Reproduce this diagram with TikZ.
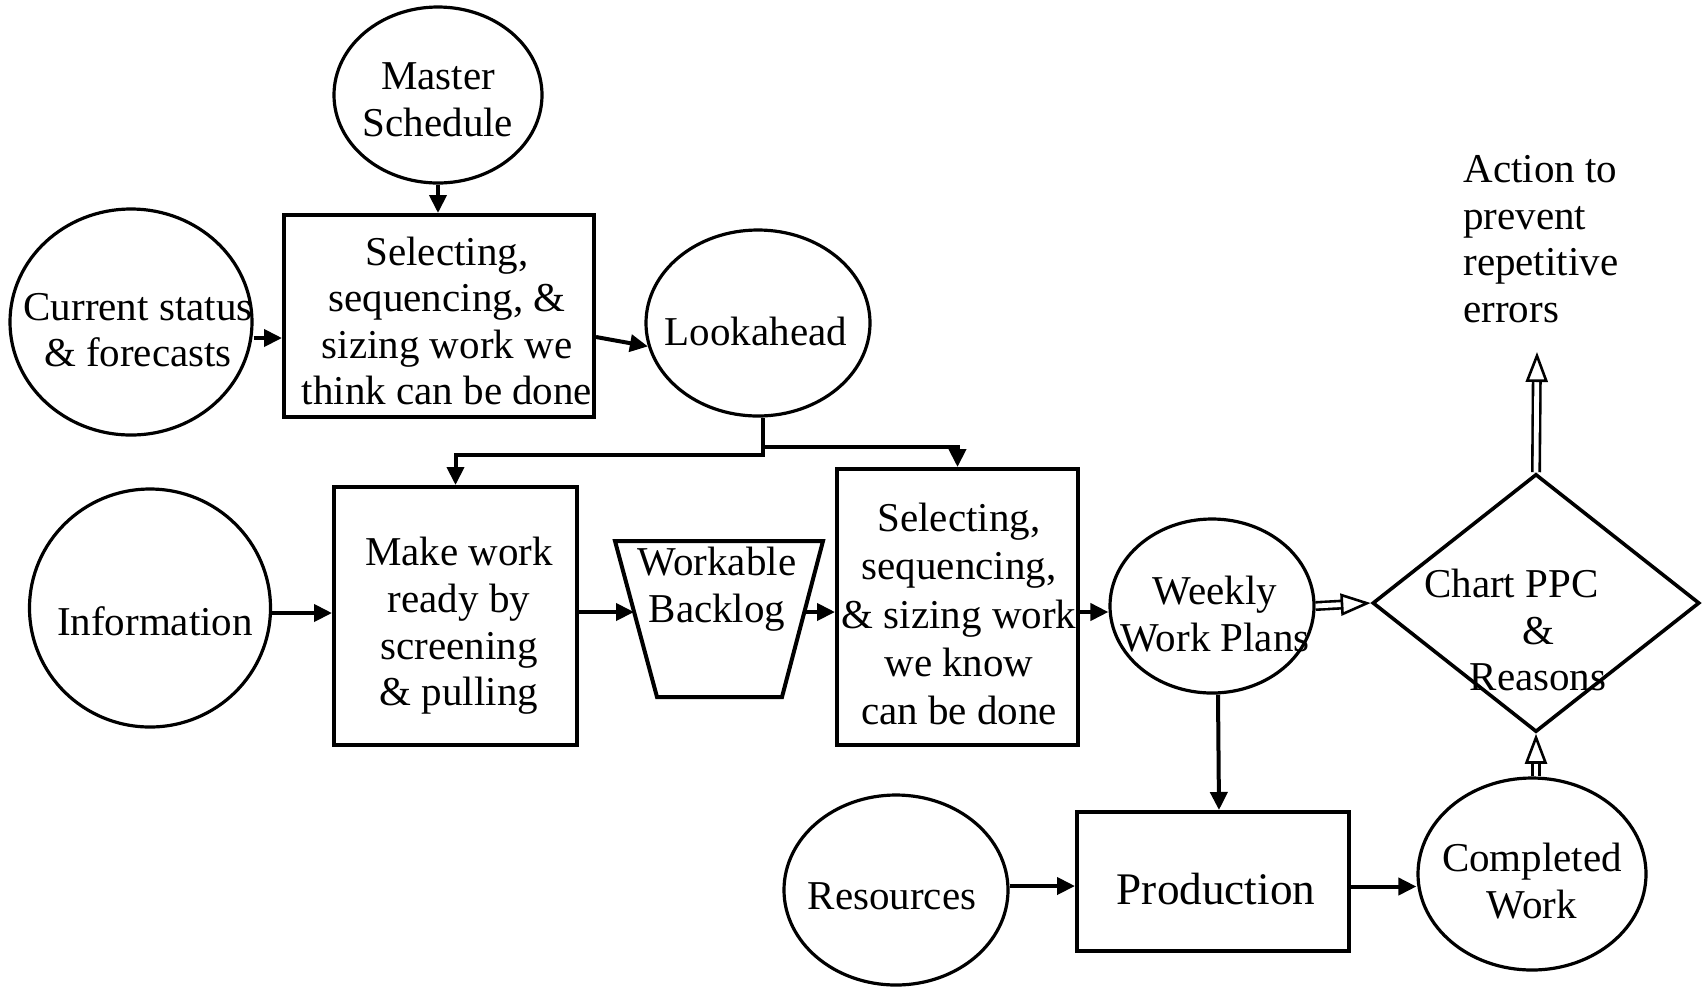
\documentclass[tikz,border=0pt]{standalone}
\usepackage{fontspec}
\setmainfont{Liberation Serif}
\usetikzlibrary{arrows.meta,shapes.geometric,calc}
\begin{document}
\begin{tikzpicture}[x=0.5pt,y=-0.5pt,
  txt/.style={font=\fontsize{20.5}{23.3}\selectfont, align=center, inner sep=0pt},
  ell/.style={draw, ellipse, line width=1.6pt, inner sep=0pt},
  boxn/.style={draw, rectangle, line width=2pt, inner sep=0pt},
  arr/.style={line width=2pt, -{Triangle[length=9pt,width=8.5pt]}},
  dbl/.style={draw, double, line width=1.3pt, double distance=2.4pt,
    -{Triangle[open, length=15pt, width=11pt, line width=1.3pt]}}
]
\useasboundingbox (0,0) rectangle (1708,987);

% ellipses
\node[ell, minimum width=104pt, minimum height=88pt] (ms) at (438,95) {};
\node[txt] (ms-t) at (438,100) {Master\\Schedule};
\node[ell, minimum width=121pt, minimum height=113pt] (cur) at (131,322) {};
\node[txt] (cur-t) at (138,330) {Current status\\ \& forecasts};
\node[ell, minimum width=112pt, minimum height=93pt] (look) at (758,323) {};
\node[txt] (look-t) at (756,331) {Lookahead};
\node[ell, minimum width=120.5pt, minimum height=119pt] (info) at (150,608) {};
\node[txt] (info-t) at (155,621) {Information};
\node[ell, minimum width=102pt, minimum height=87pt] (wk) at (1212,606) {};
\node[txt] (wk-t) at (1215,614) {Weekly\\Work Plans};
\node[ell, minimum width=112pt, minimum height=95pt] (res) at (896,890) {};
\node[txt] (res-t) at (892,896) {Resources};
\node[ell, minimum width=114pt, minimum height=96pt] (comp) at (1532,874) {};
\node[txt] (comp-t) at (1532,881) {Completed\\Work};

% boxes
\node[boxn, minimum width=155pt, minimum height=101pt] (b1) at (439,316) {};
\node[txt] (b1-t) at (447,321) {Selecting,\\sequencing, \&\\sizing work we\\think can be done};
\node[boxn, minimum width=121.5pt, minimum height=129pt] (b2) at (455.5,616) {};
\node[txt] (b2-t) at (459,626) {Make work\\ready by\\screening\\ \& pulling};
\node[boxn, minimum width=120.5pt, minimum height=138pt] (b3) at (957.5,607) {};
\node[txt, font=\fontsize{20.5}{24.2}\selectfont] (b3-t) at (959,614) {Selecting,\\sequencing,\\\& sizing work\\we know\\can be done};
\node[boxn, minimum width=136pt, minimum height=69.5pt] (prod) at (1213,881.5) {};
\node[txt, font=\fontsize{22.6}{26}\selectfont] (prod-t) at (1216,889) {Production};

% trapezium (workable backlog)
\draw[line width=2pt, line join=miter] (615,541) -- (823,541) -- (782,697) -- (657,697) -- cycle;
\coordinate (trapL) at (634,612);
\coordinate (trapR) at (805,612);
\node[txt] (trap-t) at (717,589) {Workable\\Backlog};

% diamond
\node[draw, diamond, minimum width=163.5pt, minimum height=129pt,
  line width=1.8pt, inner sep=0pt] (dia) at (1536,603) {};
\node[txt] (dia-t) at (1538,630) {Chart PPC\hspace*{1.3em}\\\&\\Reasons};

% action text
\node[txt, align=left, anchor=north west] (act) at (1463,155) {Action to\\prevent\\repetitive\\errors};
\coordinate (acttip) at (1537,352);

% connectors
\draw[arr] (ms.south) -- (ms.south |- b1.north);
\draw[arr] ([yshift=-8pt]cur.east) -- ([yshift=-8pt]cur.east -| b1.west);
\draw[arr] ([yshift=-10.5pt]b1.east) -- (look.192);
\coordinate (jR) at (763,447);
\coordinate (jL) at (763,455);
\draw[arr] ([xshift=2.5pt]look.south) -- (jR) -| (b3.north);
\draw[arr] ([xshift=2.5pt]look.south) -- (jL) -| (b2.north);
\draw[arr] ([yshift=-2.5pt]info.east) -- ([yshift=-2.5pt]info.east -| b2.west);
\draw[arr] (b2.east |- trapL) -- (trapL);
\draw[arr] (trapR) -- (trapR -| b3.west);
\draw[arr] ([yshift=-2.5pt]b3.east) -- ([yshift=-2.5pt]b3.east -| wk.west);
\draw[dbl] (wk.east) -- (dia.west);
\draw[dbl] (dia.north) -- (acttip);
\draw[arr] ([xshift=3pt]wk.south) -- ([xshift=3pt]prod.north);
\draw[arr] ([yshift=2pt]res.east) -- ([yshift=2pt]res.east -| prod.west);
\draw[arr] ([yshift=-2.5pt]prod.east) -- ([yshift=-2.5pt]prod.east -| comp.west);
\draw[dbl] (comp.north -| dia.south) -- (dia.south);
\end{tikzpicture}
\end{document}
